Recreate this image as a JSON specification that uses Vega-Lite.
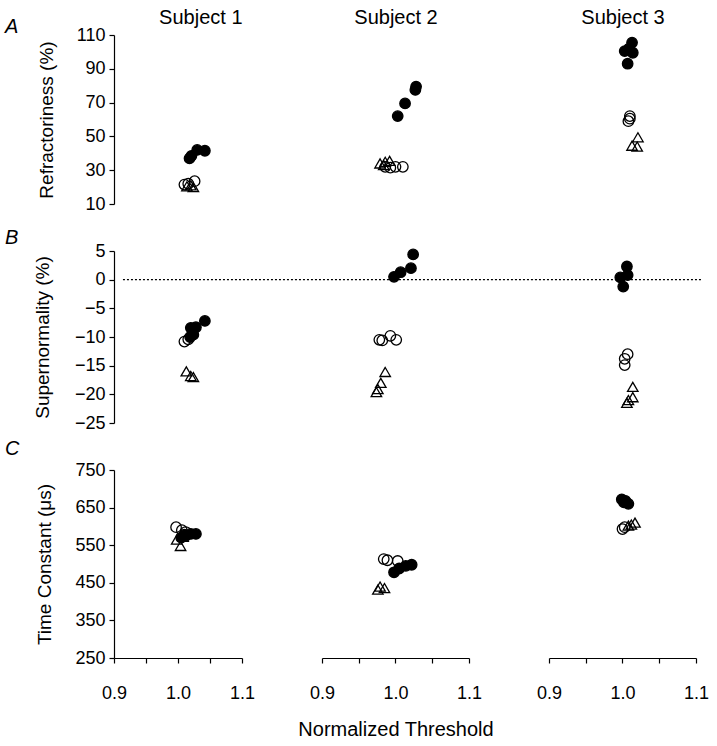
{
  "$schema": "https://vega.github.io/schema/vega-lite/v6.json",
  "background": "white",
  "padding": {"left": 5, "top": 7, "right": 5, "bottom": 5},
  "config": {
    "font": "Liberation Sans",
    "view": {"stroke": null},
    "axis": {"labelFontSize": 18, "titleFontSize": 19, "titleFontWeight": "normal", "labelColor": "black", "titleColor": "black", "domainColor": "black", "tickColor": "black", "grid": false, "domainWidth": 1.2, "tickWidth": 1.2, "labelFlush": false, "labelOverlap": false, "tickSize": 5, "labelPadding": 4},
    "title": {"font": "Liberation Sans", "fontSize": 20, "fontWeight": "normal", "fontStyle": "italic", "color": "black", "anchor": "start", "frame": "group"}
  },
  "datasets": {
    "pts": [
      {"subject": 1, "measure": "A", "series": "open", "thr": 1.010, "value": 21.5},
      {"subject": 1, "measure": "A", "series": "open", "thr": 1.016, "value": 22},
      {"subject": 1, "measure": "A", "series": "open", "thr": 1.026, "value": 23.5},
      {"subject": 1, "measure": "A", "series": "triangle", "thr": 1.014, "value": 20.5},
      {"subject": 1, "measure": "A", "series": "triangle", "thr": 1.020, "value": 21},
      {"subject": 1, "measure": "A", "series": "triangle", "thr": 1.024, "value": 20},
      {"subject": 1, "measure": "A", "series": "filled", "thr": 1.018, "value": 37},
      {"subject": 1, "measure": "A", "series": "filled", "thr": 1.021, "value": 38.5},
      {"subject": 1, "measure": "A", "series": "filled", "thr": 1.030, "value": 42},
      {"subject": 1, "measure": "A", "series": "filled", "thr": 1.042, "value": 41.5},

      {"subject": 2, "measure": "A", "series": "open", "thr": 0.986, "value": 32},
      {"subject": 2, "measure": "A", "series": "open", "thr": 0.993, "value": 31.5},
      {"subject": 2, "measure": "A", "series": "open", "thr": 1.000, "value": 32},
      {"subject": 2, "measure": "A", "series": "open", "thr": 1.010, "value": 32},
      {"subject": 2, "measure": "A", "series": "triangle", "thr": 0.979, "value": 34},
      {"subject": 2, "measure": "A", "series": "triangle", "thr": 0.986, "value": 35},
      {"subject": 2, "measure": "A", "series": "triangle", "thr": 0.992, "value": 35.5},
      {"subject": 2, "measure": "A", "series": "triangle", "thr": 0.984, "value": 33},
      {"subject": 2, "measure": "A", "series": "filled", "thr": 1.003, "value": 62},
      {"subject": 2, "measure": "A", "series": "filled", "thr": 1.013, "value": 69.5},
      {"subject": 2, "measure": "A", "series": "filled", "thr": 1.027, "value": 77.5},
      {"subject": 2, "measure": "A", "series": "filled", "thr": 1.028, "value": 79.5},

      {"subject": 3, "measure": "A", "series": "open", "thr": 1.010, "value": 62},
      {"subject": 3, "measure": "A", "series": "open", "thr": 1.010, "value": 60.5},
      {"subject": 3, "measure": "A", "series": "open", "thr": 1.008, "value": 59},
      {"subject": 3, "measure": "A", "series": "triangle", "thr": 1.021, "value": 49.5},
      {"subject": 3, "measure": "A", "series": "triangle", "thr": 1.013, "value": 44.5},
      {"subject": 3, "measure": "A", "series": "triangle", "thr": 1.020, "value": 44},
      {"subject": 3, "measure": "A", "series": "filled", "thr": 1.013, "value": 105.5},
      {"subject": 3, "measure": "A", "series": "filled", "thr": 1.003, "value": 100.5},
      {"subject": 3, "measure": "A", "series": "filled", "thr": 1.014, "value": 99.5},
      {"subject": 3, "measure": "A", "series": "filled", "thr": 1.007, "value": 93},
      {"subject": 3, "measure": "A", "series": "filled", "thr": 1.009, "value": 102},

      {"subject": 1, "measure": "B", "series": "open", "thr": 1.010, "value": -10.8},
      {"subject": 1, "measure": "B", "series": "open", "thr": 1.016, "value": -10.4},
      {"subject": 1, "measure": "B", "series": "triangle", "thr": 1.013, "value": -16},
      {"subject": 1, "measure": "B", "series": "triangle", "thr": 1.020, "value": -16.8},
      {"subject": 1, "measure": "B", "series": "triangle", "thr": 1.024, "value": -17},
      {"subject": 1, "measure": "B", "series": "filled", "thr": 1.042, "value": -7.2},
      {"subject": 1, "measure": "B", "series": "filled", "thr": 1.028, "value": -8.3},
      {"subject": 1, "measure": "B", "series": "filled", "thr": 1.020, "value": -8.4},
      {"subject": 1, "measure": "B", "series": "filled", "thr": 1.024, "value": -9.6},
      {"subject": 1, "measure": "B", "series": "filled", "thr": 1.019, "value": -10},

      {"subject": 2, "measure": "B", "series": "open", "thr": 0.978, "value": -10.5},
      {"subject": 2, "measure": "B", "series": "open", "thr": 0.982, "value": -10.6},
      {"subject": 2, "measure": "B", "series": "open", "thr": 0.993, "value": -9.8},
      {"subject": 2, "measure": "B", "series": "open", "thr": 1.001, "value": -10.5},
      {"subject": 2, "measure": "B", "series": "triangle", "thr": 0.986, "value": -16.1},
      {"subject": 2, "measure": "B", "series": "triangle", "thr": 0.980, "value": -18},
      {"subject": 2, "measure": "B", "series": "triangle", "thr": 0.976, "value": -19.1},
      {"subject": 2, "measure": "B", "series": "triangle", "thr": 0.974, "value": -19.6},
      {"subject": 2, "measure": "B", "series": "filled", "thr": 1.024, "value": 4.4},
      {"subject": 2, "measure": "B", "series": "filled", "thr": 1.021, "value": 2.0},
      {"subject": 2, "measure": "B", "series": "filled", "thr": 1.007, "value": 1.3},
      {"subject": 2, "measure": "B", "series": "filled", "thr": 0.998, "value": 0.5},

      {"subject": 3, "measure": "B", "series": "open", "thr": 1.007, "value": -13},
      {"subject": 3, "measure": "B", "series": "open", "thr": 1.003, "value": -13.8},
      {"subject": 3, "measure": "B", "series": "open", "thr": 1.003, "value": -14.9},
      {"subject": 3, "measure": "B", "series": "triangle", "thr": 1.014, "value": -18.7},
      {"subject": 3, "measure": "B", "series": "triangle", "thr": 1.014, "value": -20.5},
      {"subject": 3, "measure": "B", "series": "triangle", "thr": 1.008, "value": -21},
      {"subject": 3, "measure": "B", "series": "triangle", "thr": 1.006, "value": -21.5},
      {"subject": 3, "measure": "B", "series": "filled", "thr": 1.006, "value": 2.3},
      {"subject": 3, "measure": "B", "series": "filled", "thr": 1.007, "value": 0.8},
      {"subject": 3, "measure": "B", "series": "filled", "thr": 0.997, "value": 0.4},
      {"subject": 3, "measure": "B", "series": "filled", "thr": 1.001, "value": -1.2},

      {"subject": 1, "measure": "C", "series": "open", "thr": 0.997, "value": 598},
      {"subject": 1, "measure": "C", "series": "open", "thr": 1.006, "value": 590},
      {"subject": 1, "measure": "C", "series": "open", "thr": 1.012, "value": 585},
      {"subject": 1, "measure": "C", "series": "triangle", "thr": 0.998, "value": 565},
      {"subject": 1, "measure": "C", "series": "triangle", "thr": 1.004, "value": 548},
      {"subject": 1, "measure": "C", "series": "triangle", "thr": 1.008, "value": 572},
      {"subject": 1, "measure": "C", "series": "filled", "thr": 1.005, "value": 570},
      {"subject": 1, "measure": "C", "series": "filled", "thr": 1.012, "value": 575},
      {"subject": 1, "measure": "C", "series": "filled", "thr": 1.020, "value": 580},
      {"subject": 1, "measure": "C", "series": "filled", "thr": 1.028, "value": 580},
      {"subject": 1, "measure": "C", "series": "filled", "thr": 1.010, "value": 578},

      {"subject": 2, "measure": "C", "series": "open", "thr": 0.984, "value": 513},
      {"subject": 2, "measure": "C", "series": "open", "thr": 0.989, "value": 510},
      {"subject": 2, "measure": "C", "series": "open", "thr": 1.003, "value": 508},
      {"subject": 2, "measure": "C", "series": "triangle", "thr": 0.979, "value": 440},
      {"subject": 2, "measure": "C", "series": "triangle", "thr": 0.985, "value": 436},
      {"subject": 2, "measure": "C", "series": "triangle", "thr": 0.976, "value": 432},
      {"subject": 2, "measure": "C", "series": "filled", "thr": 0.998, "value": 478},
      {"subject": 2, "measure": "C", "series": "filled", "thr": 1.005, "value": 488},
      {"subject": 2, "measure": "C", "series": "filled", "thr": 1.014, "value": 495},
      {"subject": 2, "measure": "C", "series": "filled", "thr": 1.022, "value": 498},

      {"subject": 3, "measure": "C", "series": "open", "thr": 1.000, "value": 593},
      {"subject": 3, "measure": "C", "series": "open", "thr": 1.003, "value": 598},
      {"subject": 3, "measure": "C", "series": "triangle", "thr": 1.012, "value": 605},
      {"subject": 3, "measure": "C", "series": "triangle", "thr": 1.017, "value": 610},
      {"subject": 3, "measure": "C", "series": "triangle", "thr": 1.008, "value": 602},
      {"subject": 3, "measure": "C", "series": "filled", "thr": 0.999, "value": 672},
      {"subject": 3, "measure": "C", "series": "filled", "thr": 1.004, "value": 668},
      {"subject": 3, "measure": "C", "series": "filled", "thr": 1.008, "value": 660},
      {"subject": 3, "measure": "C", "series": "filled", "thr": 1.002, "value": 664}
    ]
  },
  "columns": 3,
  "spacing": {"row": 47, "column": 80},
  "bounds": "flush",
  "resolve": {"scale": {"x": "independent", "y": "independent"}},
  "concat": [
    {
      "width": 128, "height": 169,
      "title": {"text": "A", "dx": -109, "dy": 34},
      "data": {"name": "pts"},
      "transform": [{"filter": "datum.subject == 1 && datum.measure == 'A'"}],
      "mark": {"type": "point", "filled": true, "stroke": "black", "strokeWidth": 1.3, "size": 110, "opacity": 1},
      "encoding": {
        "x": {"field": "thr", "type": "quantitative", "scale": {"domain": [0.9, 1.1], "nice": false, "zero": false}, "axis": {"orient": "top", "domain": false, "ticks": false, "labels": false, "title": "Subject 1", "titlePadding": 8, "titleAnchor": "end", "titleFontSize": 20}},
        "y": {"field": "value", "type": "quantitative", "scale": {"domain": [10, 110], "nice": false, "zero": false}, "axis": {"values": [10, 30, 50, 70, 90, 110], "title": "Refractoriness (%)", "titlePadding": 20}},
        "shape": {"field": "series", "type": "nominal", "scale": {"domain": ["filled", "open", "triangle"], "range": ["circle", "circle", "triangle-up"]}, "legend": null},
        "fill": {"field": "series", "type": "nominal", "scale": {"domain": ["filled", "open", "triangle"], "range": ["#000000", "transparent", "transparent"]}, "legend": null}
      }
    },
    {
      "width": 147, "height": 169,
      "data": {"name": "pts"},
      "transform": [{"filter": "datum.subject == 2 && datum.measure == 'A'"}],
      "mark": {"type": "point", "filled": true, "stroke": "black", "strokeWidth": 1.3, "size": 110, "opacity": 1},
      "encoding": {
        "x": {"field": "thr", "type": "quantitative", "scale": {"domain": [0.9, 1.1], "nice": false, "zero": false}, "axis": {"orient": "top", "domain": false, "ticks": false, "labels": false, "title": "Subject 2", "titlePadding": 8, "titleFontSize": 20}},
        "y": {"field": "value", "type": "quantitative", "scale": {"domain": [10, 110], "nice": false, "zero": false}, "axis": null},
        "shape": {"field": "series", "type": "nominal", "scale": {"domain": ["filled", "open", "triangle"], "range": ["circle", "circle", "triangle-up"]}, "legend": null},
        "fill": {"field": "series", "type": "nominal", "scale": {"domain": ["filled", "open", "triangle"], "range": ["#000000", "transparent", "transparent"]}, "legend": null}
      }
    },
    {
      "width": 147, "height": 169,
      "data": {"name": "pts"},
      "transform": [{"filter": "datum.subject == 3 && datum.measure == 'A'"}],
      "mark": {"type": "point", "filled": true, "stroke": "black", "strokeWidth": 1.3, "size": 110, "opacity": 1},
      "encoding": {
        "x": {"field": "thr", "type": "quantitative", "scale": {"domain": [0.9, 1.1], "nice": false, "zero": false}, "axis": {"orient": "top", "domain": false, "ticks": false, "labels": false, "title": "Subject 3", "titlePadding": 8, "titleFontSize": 20}},
        "y": {"field": "value", "type": "quantitative", "scale": {"domain": [10, 110], "nice": false, "zero": false}, "axis": null},
        "shape": {"field": "series", "type": "nominal", "scale": {"domain": ["filled", "open", "triangle"], "range": ["circle", "circle", "triangle-up"]}, "legend": null},
        "fill": {"field": "series", "type": "nominal", "scale": {"domain": ["filled", "open", "triangle"], "range": ["#000000", "transparent", "transparent"]}, "legend": null}
      }
    },
    {
      "width": 128, "height": 172,
      "title": {"text": "B", "dx": -109, "dy": 10},
      "encoding": {
        "x": {"field": "thr", "type": "quantitative", "scale": {"domain": [0.9, 1.1], "nice": false, "zero": false}, "axis": null},
        "y": {"field": "value", "type": "quantitative", "scale": {"domain": [-25, 5], "nice": false, "zero": false}, "axis": {"values": [5, 0, -5, -10, -15, -20, -25], "title": "Supernormality (%)", "titlePadding": 22}}
      },
      "layer": [
        {
          "data": {"values": [{"thr": 0.914, "thr2": 1.82, "value": 0}]},
          "mark": {"type": "rule", "color": "black", "strokeWidth": 1.4, "strokeDash": [2, 2]},
          "encoding": {"x2": {"field": "thr2"}}
        },
        {
          "data": {"name": "pts"},
          "transform": [{"filter": "datum.subject == 1 && datum.measure == 'B'"}],
          "mark": {"type": "point", "filled": true, "stroke": "black", "strokeWidth": 1.3, "size": 110, "opacity": 1},
          "encoding": {
            "shape": {"field": "series", "type": "nominal", "scale": {"domain": ["filled", "open", "triangle"], "range": ["circle", "circle", "triangle-up"]}, "legend": null},
            "fill": {"field": "series", "type": "nominal", "scale": {"domain": ["filled", "open", "triangle"], "range": ["#000000", "transparent", "transparent"]}, "legend": null}
          }
        }
      ]
    },
    {
      "width": 147, "height": 172,
      "data": {"name": "pts"},
      "transform": [{"filter": "datum.subject == 2 && datum.measure == 'B'"}],
      "mark": {"type": "point", "filled": true, "stroke": "black", "strokeWidth": 1.3, "size": 110, "opacity": 1},
      "encoding": {
        "x": {"field": "thr", "type": "quantitative", "scale": {"domain": [0.9, 1.1], "nice": false, "zero": false}, "axis": null},
        "y": {"field": "value", "type": "quantitative", "scale": {"domain": [-25, 5], "nice": false, "zero": false}, "axis": null},
        "shape": {"field": "series", "type": "nominal", "scale": {"domain": ["filled", "open", "triangle"], "range": ["circle", "circle", "triangle-up"]}, "legend": null},
        "fill": {"field": "series", "type": "nominal", "scale": {"domain": ["filled", "open", "triangle"], "range": ["#000000", "transparent", "transparent"]}, "legend": null}
      }
    },
    {
      "width": 147, "height": 172,
      "data": {"name": "pts"},
      "transform": [{"filter": "datum.subject == 3 && datum.measure == 'B'"}],
      "mark": {"type": "point", "filled": true, "stroke": "black", "strokeWidth": 1.3, "size": 110, "opacity": 1},
      "encoding": {
        "x": {"field": "thr", "type": "quantitative", "scale": {"domain": [0.9, 1.1], "nice": false, "zero": false}, "axis": null},
        "y": {"field": "value", "type": "quantitative", "scale": {"domain": [-25, 5], "nice": false, "zero": false}, "axis": null},
        "shape": {"field": "series", "type": "nominal", "scale": {"domain": ["filled", "open", "triangle"], "range": ["circle", "circle", "triangle-up"]}, "legend": null},
        "fill": {"field": "series", "type": "nominal", "scale": {"domain": ["filled", "open", "triangle"], "range": ["#000000", "transparent", "transparent"]}, "legend": null}
      }
    },
    {
      "width": 128, "height": 188,
      "title": {"text": "C", "dx": -109, "dy": 2},
      "data": {"name": "pts"},
      "transform": [{"filter": "datum.subject == 1 && datum.measure == 'C'"}],
      "mark": {"type": "point", "filled": true, "stroke": "black", "strokeWidth": 1.3, "size": 110, "opacity": 1},
      "encoding": {
        "x": {"field": "thr", "type": "quantitative", "scale": {"domain": [0.9, 1.1], "nice": false, "zero": false}, "axis": {"values": [0.9, 0.95, 1, 1.05, 1.1], "labelExpr": "abs(datum.value - 0.95) < 0.001 || abs(datum.value - 1.05) < 0.001 ? '' : format(datum.value, '.1f')", "tickSize": 5, "labelPadding": 21, "title": null}},
        "y": {"field": "value", "type": "quantitative", "scale": {"domain": [250, 750], "nice": false, "zero": false}, "axis": {"values": [250, 350, 450, 550, 650, 750], "title": "Time Constant (μs)", "titlePadding": 20}},
        "shape": {"field": "series", "type": "nominal", "scale": {"domain": ["filled", "open", "triangle"], "range": ["circle", "circle", "triangle-up"]}, "legend": null},
        "fill": {"field": "series", "type": "nominal", "scale": {"domain": ["filled", "open", "triangle"], "range": ["#000000", "transparent", "transparent"]}, "legend": null}
      }
    },
    {
      "width": 147, "height": 188,
      "data": {"name": "pts"},
      "transform": [{"filter": "datum.subject == 2 && datum.measure == 'C'"}],
      "mark": {"type": "point", "filled": true, "stroke": "black", "strokeWidth": 1.3, "size": 110, "opacity": 1},
      "encoding": {
        "x": {"field": "thr", "type": "quantitative", "scale": {"domain": [0.9, 1.1], "nice": false, "zero": false}, "axis": {"values": [0.9, 0.95, 1, 1.05, 1.1], "labelExpr": "abs(datum.value - 0.95) < 0.001 || abs(datum.value - 1.05) < 0.001 ? '' : format(datum.value, '.1f')", "tickSize": 5, "labelPadding": 21, "title": "Normalized Threshold", "titlePadding": 17, "titleFontSize": 20}},
        "y": {"field": "value", "type": "quantitative", "scale": {"domain": [250, 750], "nice": false, "zero": false}, "axis": null},
        "shape": {"field": "series", "type": "nominal", "scale": {"domain": ["filled", "open", "triangle"], "range": ["circle", "circle", "triangle-up"]}, "legend": null},
        "fill": {"field": "series", "type": "nominal", "scale": {"domain": ["filled", "open", "triangle"], "range": ["#000000", "transparent", "transparent"]}, "legend": null}
      }
    },
    {
      "width": 147, "height": 188,
      "data": {"name": "pts"},
      "transform": [{"filter": "datum.subject == 3 && datum.measure == 'C'"}],
      "mark": {"type": "point", "filled": true, "stroke": "black", "strokeWidth": 1.3, "size": 110, "opacity": 1},
      "encoding": {
        "x": {"field": "thr", "type": "quantitative", "scale": {"domain": [0.9, 1.1], "nice": false, "zero": false}, "axis": {"values": [0.9, 0.95, 1, 1.05, 1.1], "labelExpr": "abs(datum.value - 0.95) < 0.001 || abs(datum.value - 1.05) < 0.001 ? '' : format(datum.value, '.1f')", "tickSize": 5, "labelPadding": 21, "title": null}},
        "y": {"field": "value", "type": "quantitative", "scale": {"domain": [250, 750], "nice": false, "zero": false}, "axis": null},
        "shape": {"field": "series", "type": "nominal", "scale": {"domain": ["filled", "open", "triangle"], "range": ["circle", "circle", "triangle-up"]}, "legend": null},
        "fill": {"field": "series", "type": "nominal", "scale": {"domain": ["filled", "open", "triangle"], "range": ["#000000", "transparent", "transparent"]}, "legend": null}
      }
    }
  ]
}
